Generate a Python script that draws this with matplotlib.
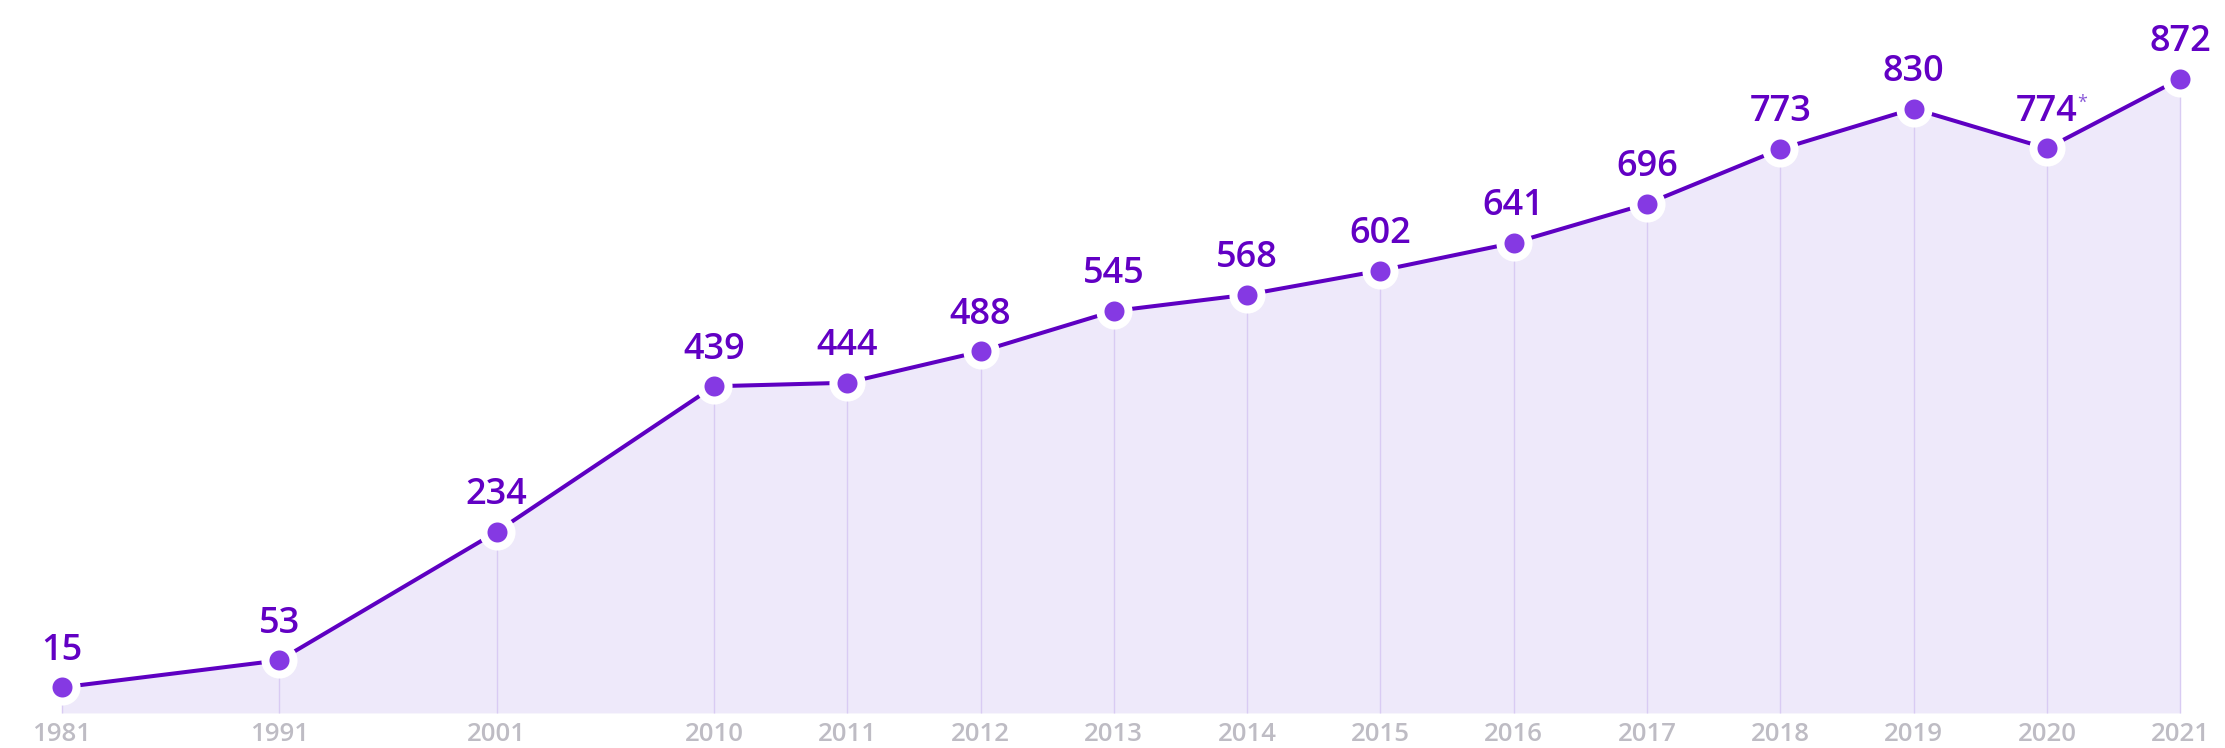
import matplotlib.pyplot as plt
import matplotlib.transforms as mtransforms
import numpy as np

years = ['1981', '1991', '2001', '2010', '2011', '2012', '2013', '2014',
         '2015', '2016', '2017', '2018', '2019', '2020', '2021']
values = [15, 53, 234, 439, 444, 488, 545, 568, 602, 641, 696, 773, 830, 774, 872]
notes = {'2020': '*'}

LINE = '#5E00C2'
DOT = '#8539E3'
FILL = '#EEE9FA'
VLINE = '#D9CBF3'
TXT = '#6200C4'
GREY = '#BEBCC4'

# x layout: decades are wider apart than the yearly points
gaps = [217.3] * 3 + [133.3] * 11
x = np.concatenate([[62], 62 + np.cumsum(gaps)])
base = -21

fig = plt.figure(figsize=(22.25, 7.48), dpi=100)
ax = fig.add_axes([0, 0, 1, 1])
ax.set_xlim(0, 2225)
ax.set_ylim(-70.4, 983)
ax.axis('off')

ax.fill_between(x, values, base, color=FILL, lw=0, zorder=1)
ax.vlines(x, base, values, color=VLINE, lw=1.0, zorder=2)
ax.plot(x, values, color=LINE, lw=2.9, zorder=3, solid_capstyle='round')
ax.plot(x, values, 'o', ms=26, color='white', mec='none', zorder=4)
ax.plot(x, values, 'o', ms=14.4, color=DOT, mec='none', zorder=5)

for xi, v, yr in zip(x, values, years):
    ax.annotate(str(v), (xi, v), xytext=(0, 20), textcoords='offset points',
                ha='center', va='baseline', fontsize=26, color=TXT,
                family='Open Sans', weight='semibold', zorder=6)
    if yr in notes:
        ax.annotate(notes[yr], (xi, v), xytext=(25.5, 39), textcoords='offset points',
                    ha='center', va='top', fontsize=13, color='#8A5AD8',
                    family='Open Sans', zorder=6)

trans = mtransforms.blended_transform_factory(ax.transData, ax.transAxes)
for xi, yr in zip(x, years):
    ax.text(xi, 1 - 722 / 748, yr, transform=trans, ha='center', va='top',
            fontsize=18.5, color=GREY, family='Open Sans', weight='semibold')

fig.savefig('out.png', dpi=100)
